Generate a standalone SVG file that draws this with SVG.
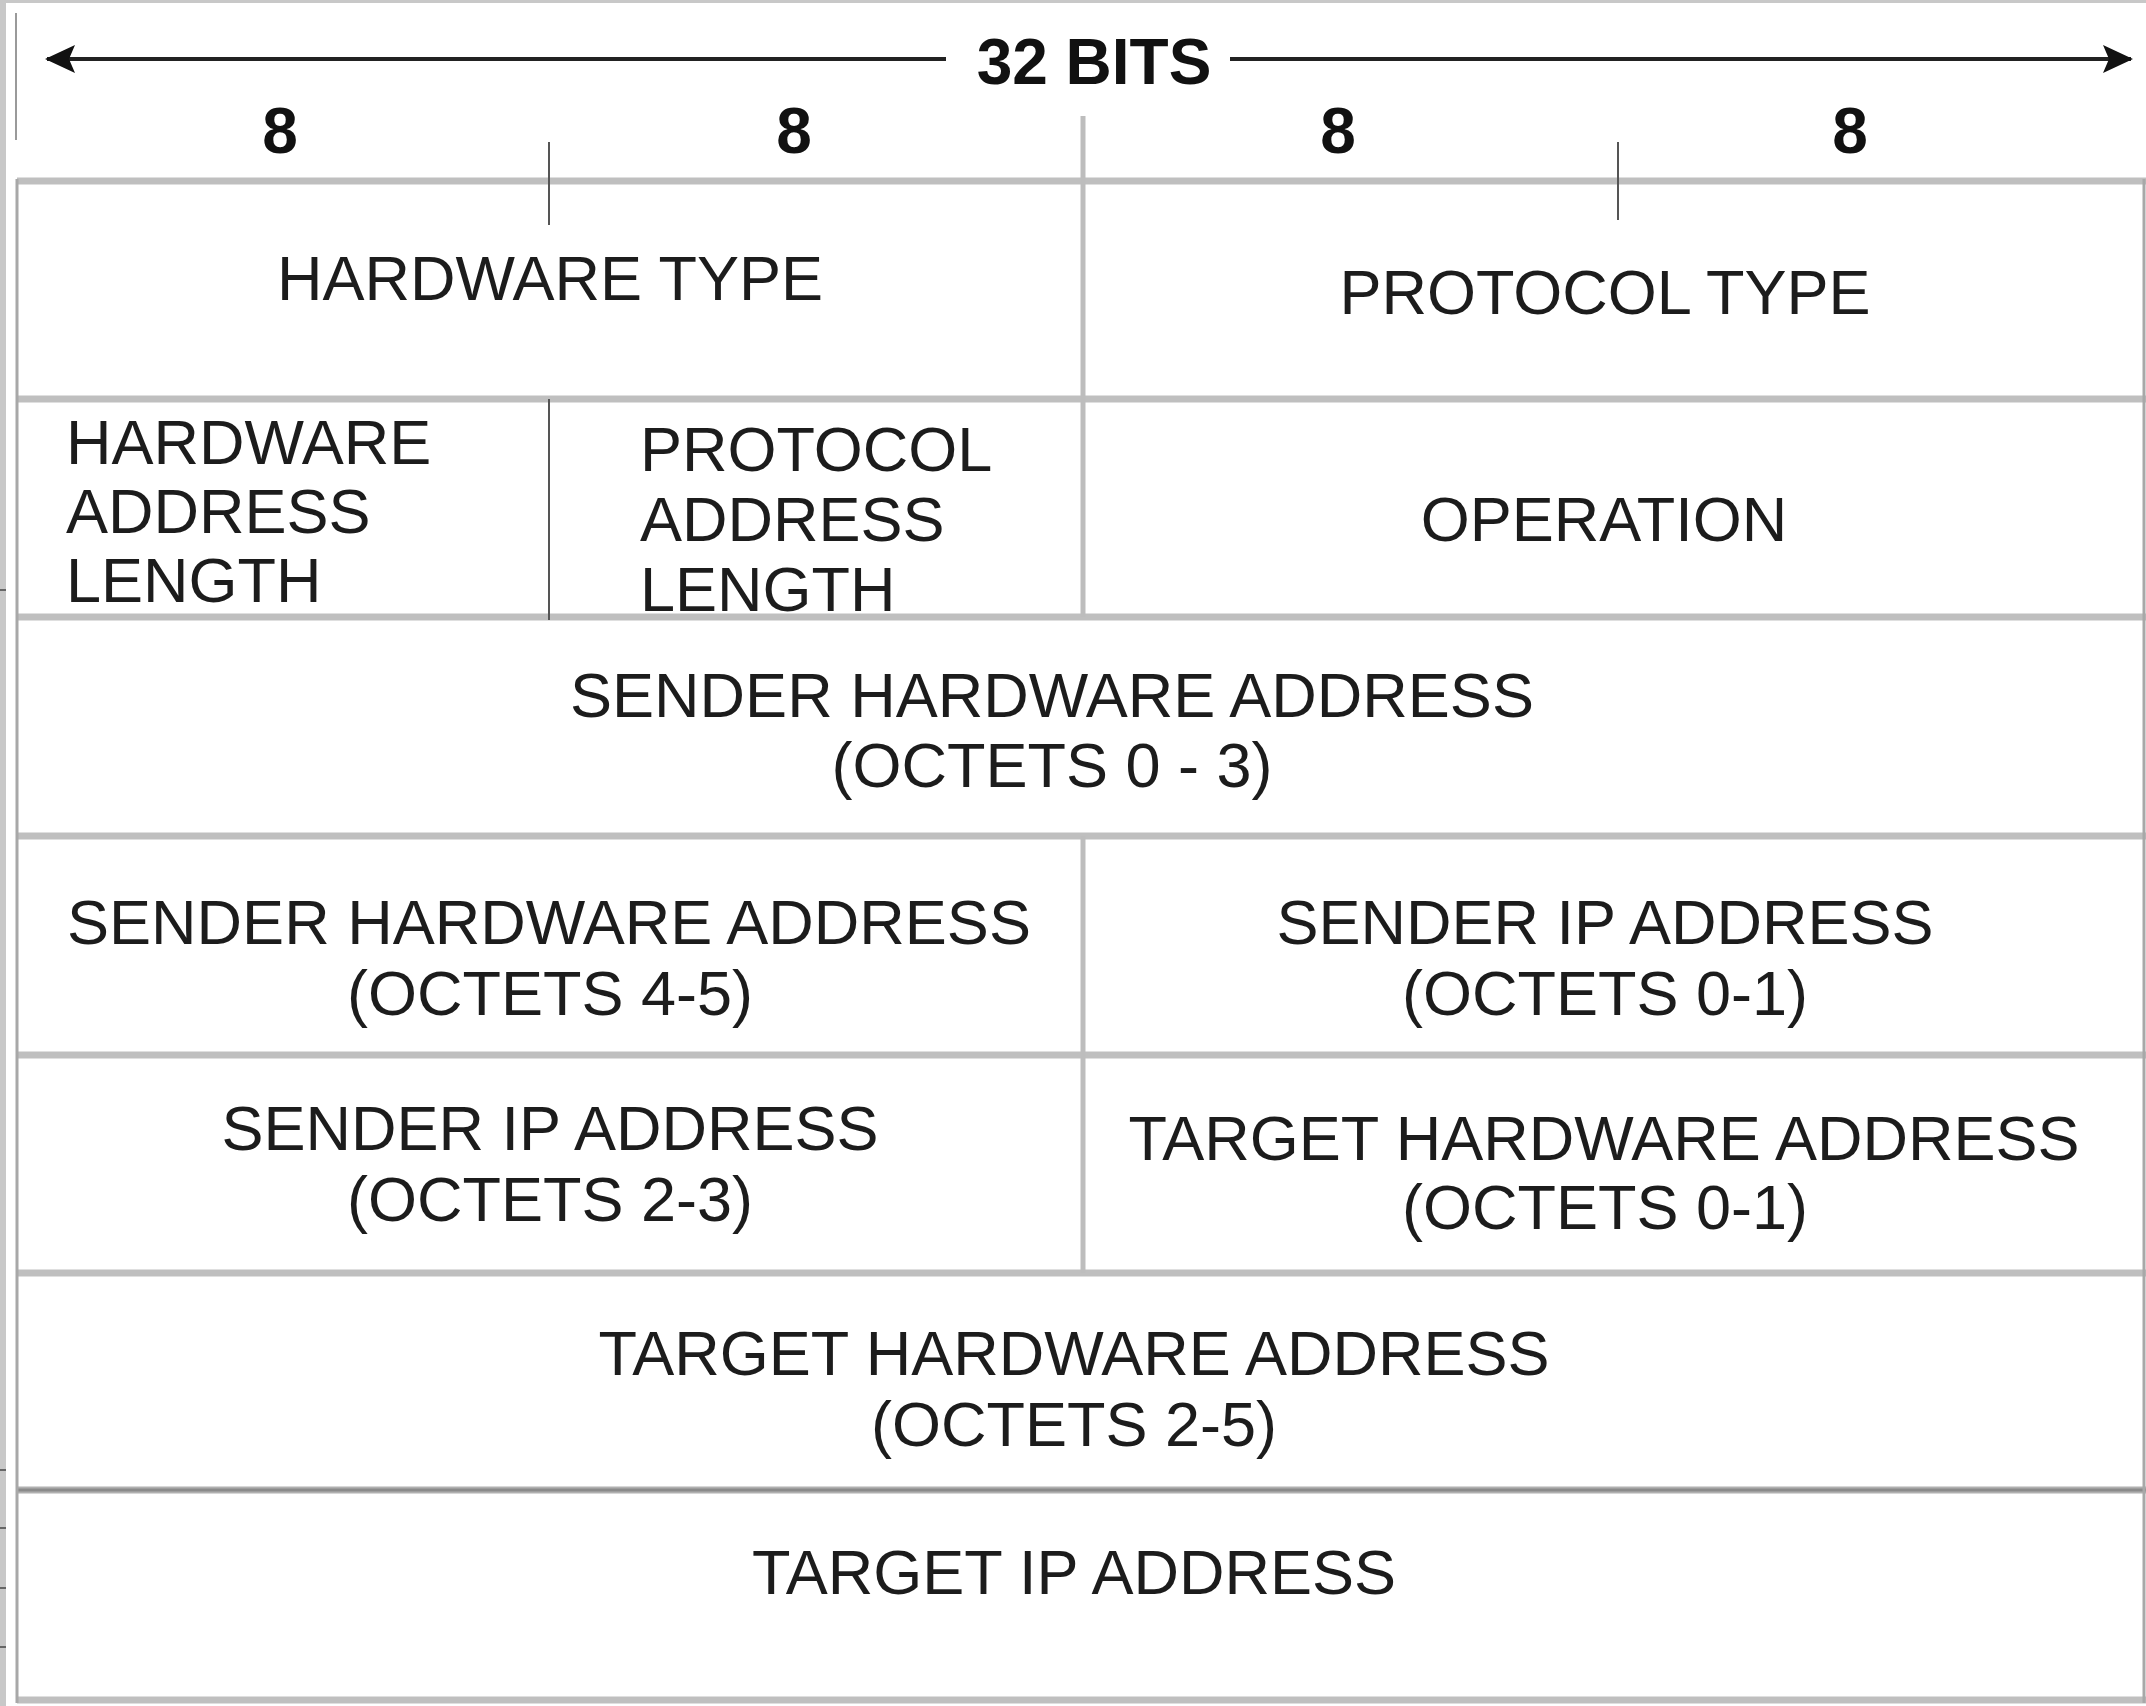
<svg xmlns="http://www.w3.org/2000/svg" width="2146" height="1706" viewBox="0 0 2146 1706">
<style>
.lbl{font-family:"Liberation Sans",Arial,sans-serif;font-size:63px;fill:#1c1c1c}
.c{text-anchor:middle}
.b{font-family:"Liberation Sans",Arial,sans-serif;font-size:64px;font-weight:bold;fill:#111;text-anchor:middle}
.grid{stroke:#bfbfbf;stroke-width:7;fill:none}
.thin{stroke:#555;stroke-width:2;fill:none}
.mid{stroke:#bdbdbd;stroke-width:5;fill:none}
.edge{stroke:#a8a8a8;stroke-width:3;fill:none}
.strip{stroke:#666;stroke-width:2}
</style>
<defs>
<marker id="ah" viewBox="0 0 30 28" refX="28" refY="14" markerWidth="30" markerHeight="28" markerUnits="userSpaceOnUse" orient="auto-start-reverse">
<path d="M0,0 L30,14 L0,28 L6,14 Z" fill="#111"/>
</marker>
</defs>
<rect width="2146" height="1706" fill="#ffffff"/>
<g id="page-edge">
<rect x="0" y="0" width="6" height="1706" fill="#c8c8c8"/>
<rect x="0" y="0" width="2146" height="3" fill="#c8c8c8"/>
<line x1="16" y1="13" x2="16" y2="140" stroke="#9a9a9a" stroke-width="2"/>
<line class="strip" x1="0" y1="590" x2="6" y2="590" stroke="#111" stroke-width="4"/>
<line class="strip" x1="0" y1="1470" x2="6" y2="1470"/>
<line class="strip" x1="0" y1="1528" x2="6" y2="1528"/>
<line class="strip" x1="0" y1="1588" x2="6" y2="1588"/>
<line class="strip" x1="0" y1="1647" x2="6" y2="1647"/>
</g>
<g id="connectors">
<line x1="47" y1="59" x2="946" y2="59" stroke="#222" stroke-width="4" marker-start="url(#ah)"/>
<line x1="1230" y1="59" x2="2131" y2="59" stroke="#222" stroke-width="4" marker-end="url(#ah)"/>
</g>
<g id="grid">
<line class="grid" x1="17" y1="181" x2="2146" y2="181"/>
<line class="grid" x1="17" y1="399" x2="2146" y2="399"/>
<line class="grid" x1="17" y1="617" x2="2146" y2="617"/>
<line class="grid" x1="17" y1="836" x2="2146" y2="836"/>
<line class="grid" x1="17" y1="1055" x2="2146" y2="1055"/>
<line class="grid" x1="17" y1="1273" x2="2146" y2="1273"/>
<line x1="17" y1="1490" x2="2146" y2="1490" stroke="#b0b0b0" stroke-width="7"/>
<line x1="17" y1="1490" x2="2146" y2="1490" stroke="#8a8a8a" stroke-width="3"/>
<line class="grid" x1="17" y1="1700" x2="2146" y2="1700"/>
<line class="edge" x1="17" y1="179" x2="17" y2="1703"/>
<line class="edge" x1="2144" y1="179" x2="2144" y2="1703"/>
<line class="mid" x1="1083" y1="116" x2="1083" y2="617"/>
<line class="mid" x1="1083" y1="836" x2="1083" y2="1273"/>
<line class="thin" x1="549" y1="142" x2="549" y2="225"/>
<line class="thin" x1="1618" y1="142" x2="1618" y2="220"/>
<line class="thin" x1="549" y1="399" x2="549" y2="620"/>
</g>
<g id="header">
<text class="b" x="1094" y="84">32 BITS</text>
<text class="b" x="280" y="153">8</text>
<text class="b" x="794" y="153">8</text>
<text class="b" x="1338" y="153">8</text>
<text class="b" x="1850" y="153">8</text>
</g>
<g id="hardware-type"><text class="lbl c" x="550" y="300">HARDWARE TYPE</text></g>
<g id="protocol-type"><text class="lbl c" x="1605" y="314">PROTOCOL TYPE</text></g>
<g id="hardware-address-length"><text class="lbl" x="66" y="464">HARDWARE</text><text class="lbl" x="66" y="533">ADDRESS</text><text class="lbl" x="66" y="602">LENGTH</text></g>
<g id="protocol-address-length"><text class="lbl" x="640" y="471">PROTOCOL</text><text class="lbl" x="640" y="541">ADDRESS</text><text class="lbl" x="640" y="611">LENGTH</text></g>
<g id="operation"><text class="lbl c" x="1604" y="541">OPERATION</text></g>
<g id="sender-hw-0-3"><text class="lbl c" x="1052" y="717">SENDER HARDWARE ADDRESS</text><text class="lbl c" x="1052" y="787">(OCTETS 0 - 3)</text></g>
<g id="sender-hw-4-5"><text class="lbl c" x="549" y="944">SENDER HARDWARE ADDRESS</text><text class="lbl c" x="550" y="1015">(OCTETS 4-5)</text></g>
<g id="sender-ip-0-1"><text class="lbl c" x="1605" y="944">SENDER IP ADDRESS</text><text class="lbl c" x="1605" y="1015">(OCTETS 0-1)</text></g>
<g id="sender-ip-2-3"><text class="lbl c" x="550" y="1150">SENDER IP ADDRESS</text><text class="lbl c" x="550" y="1221">(OCTETS 2-3)</text></g>
<g id="target-hw-0-1"><text class="lbl c" x="1604" y="1160">TARGET HARDWARE ADDRESS</text><text class="lbl c" x="1605" y="1229">(OCTETS 0-1)</text></g>
<g id="target-hw-2-5"><text class="lbl c" x="1074" y="1375">TARGET HARDWARE ADDRESS</text><text class="lbl c" x="1074" y="1446">(OCTETS 2-5)</text></g>
<g id="target-ip"><text class="lbl c" x="1074" y="1594">TARGET IP ADDRESS</text></g>
</svg>
